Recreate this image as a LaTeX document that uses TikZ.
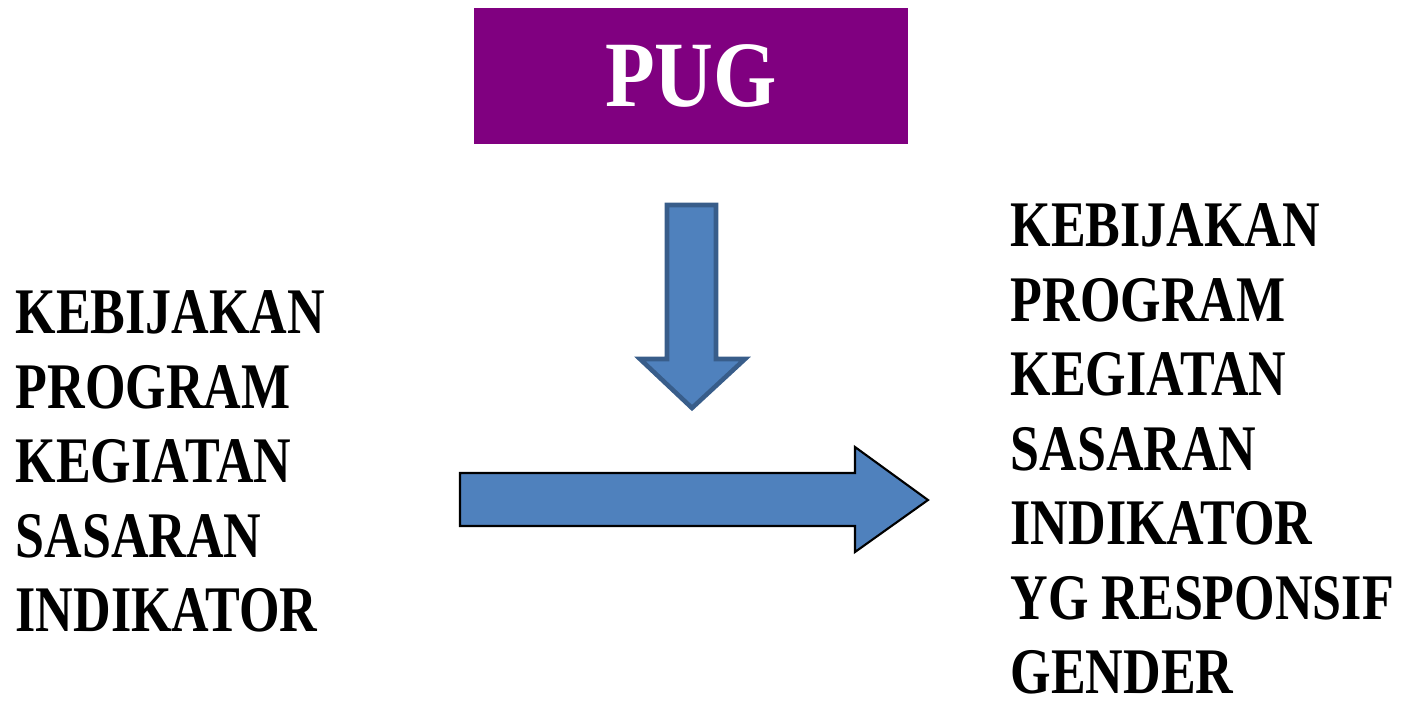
\documentclass[tikz,border=0pt]{standalone}
\usepackage{fontspec}
\setmainfont{Liberation Serif}[FakeStretch=0.80]
\newfontfamily\pugfont{Liberation Serif}[FakeStretch=0.87]
\definecolor{pugpurple}{HTML}{800080}
\definecolor{arrowblue}{HTML}{4F81BD}
\definecolor{arrowedge}{HTML}{385D8A}
\tikzset{>=latex}
\tikzset{
  itemlist/.style={anchor=north west,inner sep=0pt,align=left,
    font=\bfseries\fontsize{18.5}{21.2}\selectfont},
  blockarrow/.style={fill=arrowblue}
}
\begin{document}
\begin{tikzpicture}[x=0.01cm,y=-0.01cm]
\useasboundingbox (0,0) rectangle (1402,708);
\node[fill=pugpurple,minimum width=4.33cm,minimum height=1.36cm,inner sep=0pt,
      text=white,font=\pugfont\bfseries\fontsize{26.6}{30}\selectfont] (pug) at (691,76) {PUG};

% down arrow
\draw[blockarrow,draw=arrowedge,line width=1.3pt,line join=miter]
  (667,205) -- (716,205) -- (716,359) -- (745,359) -- (692,408)
  -- (640,359) -- (667,359) -- cycle;
% right arrow
\draw[blockarrow,draw=black,line width=0.6pt]
  (460,473) -- (855,473) -- (855,447) -- (928,500) -- (855,552)
  -- (855,526) -- (460,526) -- cycle;

\node[itemlist] (before) at (15,290) {KEBIJAKAN\\PROGRAM\\KEGIATAN\\SASARAN\\INDIKATOR};
\node[itemlist] (after) at (1010,203) {KEBIJAKAN\\PROGRAM\\KEGIATAN\\SASARAN\\INDIKATOR\\YG RESPONSIF\\GENDER};
\end{tikzpicture}
\end{document}
